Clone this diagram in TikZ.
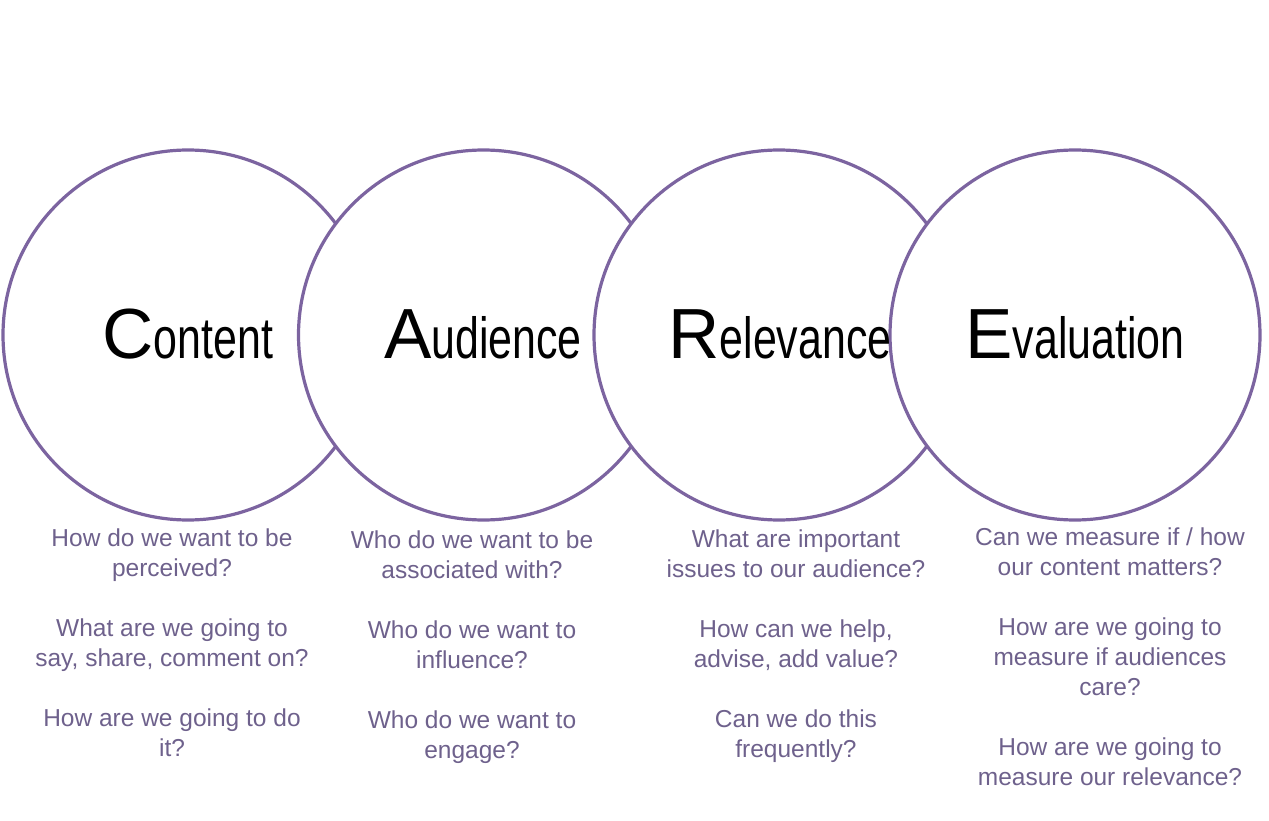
\documentclass[tikz,border=0pt]{standalone}
\usepackage{fontspec}
\setmainfont{Liberation Sans}
\usepackage{graphicx}
\definecolor{ringpurple}{RGB}{124,100,160}
\definecolor{askpurple}{RGB}{110,97,140}
\tikzset{
  ring/.style={circle, draw=ringpurple, line width=3.2pt, fill=white,
    minimum size=370pt, inner sep=0pt},
  heading/.style={anchor=base, text=black, inner sep=0pt},
  asks/.style={anchor=north, align=center, text=askpurple, inner sep=0pt,
    font=\fontsize{24.5}{30}\selectfont}
}
% big first letter, then the rest of the word narrower and smaller
\newcommand{\bigword}[2]{{\fontsize{71}{71}\selectfont #1}%
  \scalebox{0.74}[1]{\fontsize{58}{58}\selectfont #2}}

\begin{document}
\begin{tikzpicture}[x=1pt,y=-1pt]
\useasboundingbox (0,0) rectangle (1269,821);
% the four rings, each one laid over the one before it
\node[ring] (content) at (188,335) {};
\node[ring] (audience) at (483.5,335) {};
\node[ring] (relevance) at (779,335) {};
\node[ring] (evaluation) at (1075,335) {};

% the words inside the rings
\node[heading] (contentname) at (188,358) {\bigword{C}{ontent}};
\node[heading] (audiencename) at (483,358) {\bigword{A}{udience}};
\node[heading] (relevancename) at (780,358) {\bigword{R}{elevance}};
\node[heading] (evaluationname) at (1075,358) {\bigword{E}{valuation}};

% the questions under each ring
\node[asks] (contentasks) at (172,529) {How do we want to be\\
  perceived?\\[30pt]
  What are we going to\\
  say, share, comment on?\\[30pt]
  How are we going to do\\
  it?};
\node[asks] (audienceasks) at (472,531) {Who do we want to be\\
  associated with?\\[30pt]
  Who do we want to\\
  influence?\\[30pt]
  Who do we want to\\
  engage?};
\node[asks] (relevanceasks) at (796,530) {What are important\\
  issues to our audience?\\[30pt]
  How can we help,\\
  advise, add value?\\[30pt]
  Can we do this\\
  frequently?};
\node[asks] (evaluationasks) at (1110,528) {Can we measure if / how\\
  our content matters?\\[30pt]
  How are we going to\\
  measure if audiences\\
  care?\\[30pt]
  How are we going to\\
  measure our relevance?};
\end{tikzpicture}
\end{document}
